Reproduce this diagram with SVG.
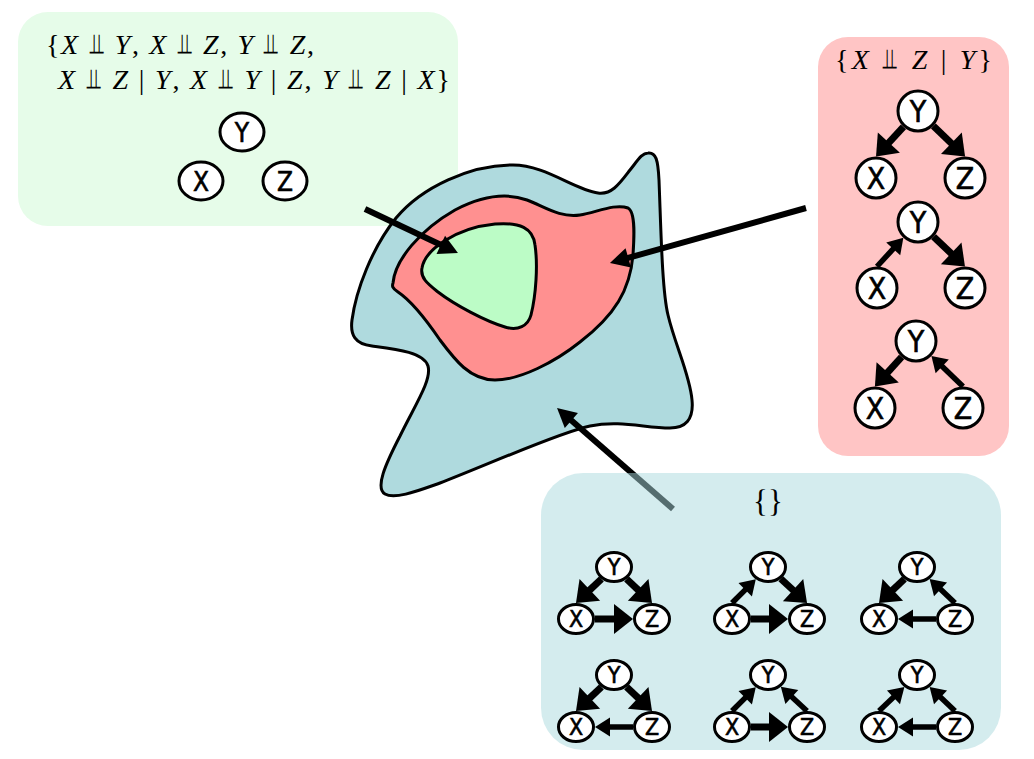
<svg xmlns="http://www.w3.org/2000/svg" width="1034" height="759" viewBox="0 0 1034 759">
<style>
.node{fill:#fff;stroke:#000;stroke-width:3}
.lbl{font-family:"DejaVu Sans Condensed","DejaVu Sans",sans-serif;text-anchor:middle;fill:#000;stroke:#000;stroke-width:0.6}
.l27{font-size:30px}.l23{font-size:26px}.l21{font-size:23px}
.eb{stroke:#000;stroke-width:7;fill:none;marker-end:url(#hb)}
.es{stroke:#000;stroke-width:5.5;fill:none;marker-end:url(#hs)}
.ec{stroke:#000;stroke-width:6;fill:none;marker-end:url(#hc)}
.math{font-family:"Liberation Serif","DejaVu Serif",serif;font-size:28px;fill:#000}
.i{font-style:italic}
.rel{font-family:"DejaVu Sans","DejaVu Serif",sans-serif;font-style:normal}
.blob{stroke:#000;stroke-width:3;stroke-linejoin:round}
</style>
<defs>
<marker id="hb" markerUnits="userSpaceOnUse" refX="1" refY="0" markerWidth="20" markerHeight="30" orient="auto" overflow="visible"><path d="M0,-15 L19,0 L0,15 z" fill="#000"/></marker>
<marker id="hs" markerUnits="userSpaceOnUse" refX="1" refY="0" markerWidth="16" markerHeight="18" orient="auto" overflow="visible"><path d="M0,-9.5 L15,0 L0,9.5 z" fill="#000"/></marker>
<marker id="hc" markerUnits="userSpaceOnUse" refX="1" refY="0" markerWidth="20" markerHeight="20" orient="auto" overflow="visible"><path d="M0,-10 L19,0 L0,10 z" fill="#000"/></marker>
</defs>
<rect width="1034" height="759" fill="#fff"/>

<g id="box-green">
<rect x="18" y="12" width="440" height="214" rx="30" fill="#e6fce9"/>
<text class="math" x="46" y="54" textLength="268" lengthAdjust="spacing">{<tspan class="i">X</tspan> <tspan class="rel">⫫</tspan> <tspan class="i">Y</tspan>, <tspan class="i">X</tspan> <tspan class="rel">⫫</tspan> <tspan class="i">Z</tspan>, <tspan class="i">Y</tspan> <tspan class="rel">⫫</tspan> <tspan class="i">Z</tspan>,</text>
<text class="math" x="58" y="89" textLength="392" lengthAdjust="spacing"><tspan class="i">X</tspan> <tspan class="rel">⫫</tspan> <tspan class="i">Z</tspan> | <tspan class="i">Y</tspan>, <tspan class="i">X</tspan> <tspan class="rel">⫫</tspan> <tspan class="i">Y</tspan> | <tspan class="i">Z</tspan>, <tspan class="i">Y</tspan> <tspan class="rel">⫫</tspan> <tspan class="i">Z</tspan> | <tspan class="i">X</tspan>}</text>
<g id="g0-Y"><ellipse class="node" cx="242" cy="132" rx="22" ry="19"/><text class="lbl l23" x="242" y="141.5">Y</text></g>
<g id="g0-X"><ellipse class="node" cx="201" cy="181" rx="22" ry="19"/><text class="lbl l23" x="201" y="190.5">X</text></g>
<g id="g0-Z"><ellipse class="node" cx="285" cy="181" rx="22" ry="19"/><text class="lbl l23" x="285" y="190.5">Z</text></g>
</g>

<g id="box-pink">
<rect x="818" y="37" width="191" height="419" rx="30" fill="#ffc5c5"/>
<text class="math" x="835" y="69" textLength="157" lengthAdjust="spacing">{<tspan class="i">X</tspan> <tspan class="rel">⫫</tspan> <tspan class="i">Z</tspan> | <tspan class="i">Y</tspan>}</text>
</g>

<g id="blob">
<path class="blob" fill="#afdade" d="M648,153 C656,152 658,160 659,180 C661,230 662,290 668,315 C675,345 690,375 692,400 C694,420 685,428 670,428 C645,428 620,420 590,426 C560,432 480,468 440,483 C420,490 395,500 385,494 C375,488 385,465 400,436 C415,405 432,380 428,366 C424,352 395,349 372,346 C355,344 350,335 352,320 C356,290 372,248 396,218 C422,187 470,165 513,165 C545,165 575,190 598,193 C612,195 620,183 630,170 C638,160 642,153 648,153 Z"/>
<path class="blob" fill="#ff9090" d="M393,283 C395,260 420,230 455,210 C480,197 505,192 527,200 C545,207 560,218 580,215 C595,213 615,203 628,208 C636,212 634,240 633,255 C630,290 615,315 580,342 C555,362 520,380 495,380 C470,380 455,360 440,340 C425,318 410,300 398,292 C392,288 392,286 393,283 Z"/>
<path class="blob" fill="#bcfcc6" d="M422,268 C425,250 455,228 495,224 C520,222 533,228 535,245 C538,265 536,295 531,315 C528,326 518,331 505,327 C485,321 455,305 438,292 C428,284 420,278 422,268 Z"/>
</g>

<g id="connectors">
<line class="ec" x1="365" y1="209" x2="441.7" y2="245.3"/>
<line class="ec" x1="806" y1="208" x2="627.3" y2="258.1"/>
<line class="ec" x1="673" y1="509" x2="570.6" y2="419.8"/>
<line class="eb" x1="903.4" y1="126.8" x2="888.2" y2="143.3"/>
<line class="eb" x1="933.4" y1="126.0" x2="952.1" y2="144.0"/>
<line class="es" x1="877" y1="266.5" x2="893.9" y2="248.1"/>
<line class="eb" x1="933.6" y1="236.8" x2="951.9" y2="254.1"/>
<line class="eb" x1="901.6" y1="357.0" x2="887.0" y2="373.1"/>
<line class="es" x1="963" y1="386.5" x2="941.5" y2="365.7"/>
</g>

<g id="graph-p1">
<g id="p1-Y"><circle class="node" cx="918" cy="111" r="20"/><text class="lbl l27" x="918" y="121.9">Y</text></g>
<g id="p1-X"><circle class="node" cx="876" cy="178" r="20"/><text class="lbl l27" x="876" y="188.9">X</text></g>
<g id="p1-Z"><circle class="node" cx="965" cy="178" r="20"/><text class="lbl l27" x="965" y="188.9">Z</text></g>
</g>
<g id="graph-p2">
<g id="p2-Y"><circle class="node" cx="918" cy="222" r="20"/><text class="lbl l27" x="918" y="232.9">Y</text></g>
<g id="p2-X"><circle class="node" cx="877" cy="288" r="20"/><text class="lbl l27" x="877" y="298.9">X</text></g>
<g id="p2-Z"><circle class="node" cx="965" cy="288" r="20"/><text class="lbl l27" x="965" y="298.9">Z</text></g>
</g>
<g id="graph-p3">
<g id="p3-Y"><circle class="node" cx="916" cy="341" r="20"/><text class="lbl l27" x="916" y="351.9">Y</text></g>
<g id="p3-X"><circle class="node" cx="875" cy="408" r="20"/><text class="lbl l27" x="875" y="418.9">X</text></g>
<g id="p3-Z"><circle class="node" cx="963" cy="408" r="20"/><text class="lbl l27" x="963" y="418.9">Z</text></g>
</g>

<g id="box-blue">
<rect x="541" y="473" width="460" height="277" rx="42" fill="#aad9dd" fill-opacity="0.5"/>
<text x="768" y="512" text-anchor="middle" font-family="Liberation Serif, serif" font-size="31">{}</text>
</g>

<g id="connectors-blue">
<line class="eb" x1="601.4" y1="579" x2="589.1" y2="590.6"/>
<line class="eb" x1="626.6" y1="579" x2="638.9" y2="590.6"/>
<line class="eb" x1="595" y1="619" x2="615" y2="619"/>
<line class="es" x1="732" y1="603" x2="745.9" y2="589.1"/>
<line class="eb" x1="780.8" y1="578.8" x2="793.8" y2="590.8"/>
<line class="eb" x1="751" y1="619" x2="770" y2="619"/>
<line class="eb" x1="904.4" y1="579" x2="892.1" y2="590.6"/>
<line class="es" x1="955" y1="603" x2="939.8" y2="588.6"/>
<line class="es" x1="936" y1="619" x2="912" y2="619"/>
<line class="eb" x1="601.4" y1="687" x2="589.1" y2="698.6"/>
<line class="eb" x1="626.6" y1="687" x2="638.9" y2="698.6"/>
<line class="es" x1="633" y1="727" x2="609" y2="727"/>
<line class="es" x1="732" y1="711" x2="745.9" y2="697.1"/>
<line class="es" x1="807" y1="711" x2="791.1" y2="696.3"/>
<line class="eb" x1="751" y1="727" x2="770" y2="727"/>
<line class="es" x1="879" y1="711" x2="894.2" y2="696.6"/>
<line class="es" x1="955" y1="711" x2="939.8" y2="696.6"/>
<line class="es" x1="936" y1="727" x2="912" y2="727"/>
</g>

<g id="graph-A">
<g id="A-Y"><ellipse class="node" cx="614" cy="567" rx="17.5" ry="14.5"/><text class="lbl l21" x="614" y="575.4">Y</text></g>
<g id="A-X"><ellipse class="node" cx="576" cy="619" rx="17.5" ry="14.5"/><text class="lbl l21" x="576" y="627.4">X</text></g>
<g id="A-Z"><ellipse class="node" cx="652" cy="619" rx="17.5" ry="14.5"/><text class="lbl l21" x="652" y="627.4">Z</text></g>
</g>
<g id="graph-B">
<g id="B-Y"><ellipse class="node" cx="768" cy="567" rx="17.5" ry="14.5"/><text class="lbl l21" x="768" y="575.4">Y</text></g>
<g id="B-X"><ellipse class="node" cx="732" cy="619" rx="17.5" ry="14.5"/><text class="lbl l21" x="732" y="627.4">X</text></g>
<g id="B-Z"><ellipse class="node" cx="807" cy="619" rx="17.5" ry="14.5"/><text class="lbl l21" x="807" y="627.4">Z</text></g>
</g>
<g id="graph-C">
<g id="C-Y"><ellipse class="node" cx="917" cy="567" rx="17.5" ry="14.5"/><text class="lbl l21" x="917" y="575.4">Y</text></g>
<g id="C-X"><ellipse class="node" cx="879" cy="619" rx="17.5" ry="14.5"/><text class="lbl l21" x="879" y="627.4">X</text></g>
<g id="C-Z"><ellipse class="node" cx="955" cy="619" rx="17.5" ry="14.5"/><text class="lbl l21" x="955" y="627.4">Z</text></g>
</g>
<g id="graph-D">
<g id="D-Y"><ellipse class="node" cx="614" cy="675" rx="17.5" ry="14.5"/><text class="lbl l21" x="614" y="683.4">Y</text></g>
<g id="D-X"><ellipse class="node" cx="576" cy="727" rx="17.5" ry="14.5"/><text class="lbl l21" x="576" y="735.4">X</text></g>
<g id="D-Z"><ellipse class="node" cx="652" cy="727" rx="17.5" ry="14.5"/><text class="lbl l21" x="652" y="735.4">Z</text></g>
</g>
<g id="graph-E">
<g id="E-Y"><ellipse class="node" cx="768" cy="675" rx="17.5" ry="14.5"/><text class="lbl l21" x="768" y="683.4">Y</text></g>
<g id="E-X"><ellipse class="node" cx="732" cy="727" rx="17.5" ry="14.5"/><text class="lbl l21" x="732" y="735.4">X</text></g>
<g id="E-Z"><ellipse class="node" cx="807" cy="727" rx="17.5" ry="14.5"/><text class="lbl l21" x="807" y="735.4">Z</text></g>
</g>
<g id="graph-F">
<g id="F-Y"><ellipse class="node" cx="917" cy="675" rx="17.5" ry="14.5"/><text class="lbl l21" x="917" y="683.4">Y</text></g>
<g id="F-X"><ellipse class="node" cx="879" cy="727" rx="17.5" ry="14.5"/><text class="lbl l21" x="879" y="735.4">X</text></g>
<g id="F-Z"><ellipse class="node" cx="955" cy="727" rx="17.5" ry="14.5"/><text class="lbl l21" x="955" y="735.4">Z</text></g>
</g>
</svg>
